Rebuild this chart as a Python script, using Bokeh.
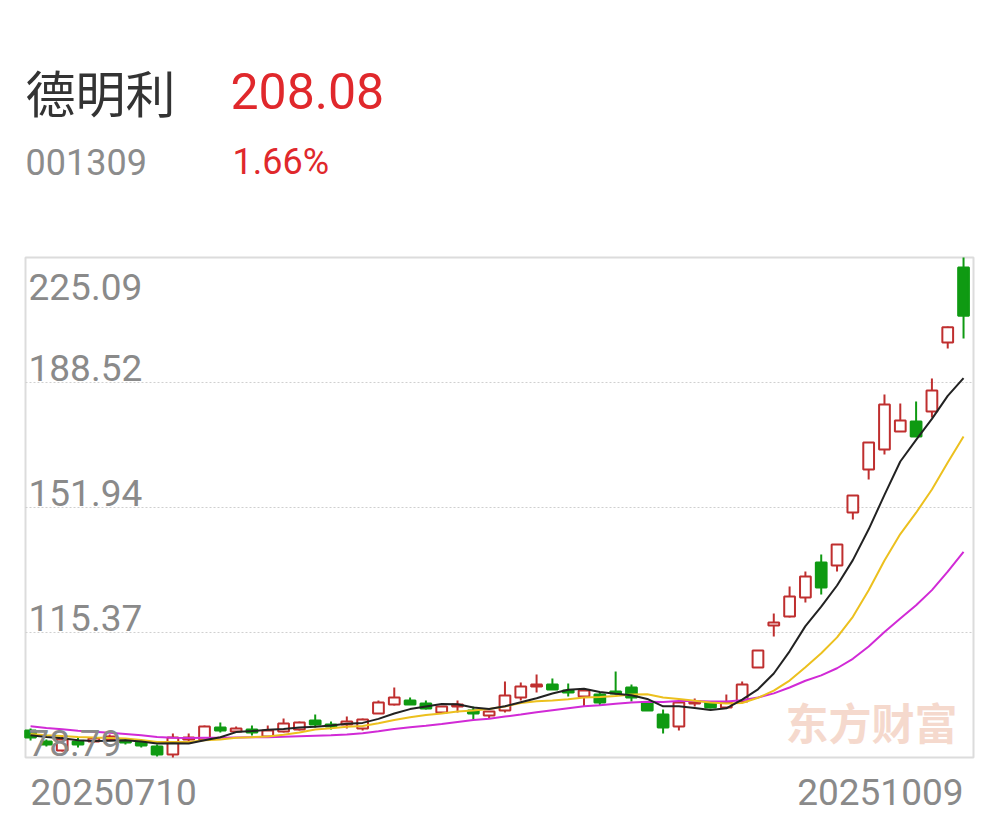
import numpy as np
from bokeh.plotting import figure
from bokeh.models import Range1d, Label, ColumnDataSource
from bokeh.core.properties import value
from bokeh.embed import file_html
from bokeh.resources import INLINE

# ---------------- data ----------------
stock_name = "德明利"
stock_code = "001309"
last_price = "208.08"
pct_change = "1.66%"
date_labels = ["20250710", "20251009"]
y_tick_vals = [225.09, 188.52, 151.94, 115.37, 78.79]
y_tick_labels = ["225.09", "188.52", "151.94", "115.37", "78.79"]

open_ = [86.69, 83.47, 80.84, 83.47, 83.47, 84.06, 83.76, 83.18, 82.01, 79.67,
         84.06, 84.06, 87.57, 86.40, 86.98, 84.93, 86.40, 86.98, 89.62, 88.45,
         88.45, 87.28, 91.66, 94.30, 95.47, 94.59, 91.96, 93.71, 92.54, 91.08,
         92.54, 96.35, 99.57, 100.15, 98.39, 96.64, 97.22, 98.10, 99.27, 94.88,
         91.37, 87.86, 94.59, 94.88, 93.42, 95.18, 105.12, 117.41, 120.05, 125.61,
         135.85, 134.97, 150.48, 163.06, 168.91, 174.18, 177.11, 180.03, 200.22, 222.16]
high = [87.28, 84.06, 84.93, 84.64, 84.64, 85.52, 84.35, 83.76, 82.59, 85.81,
        85.81, 88.15, 89.03, 87.86, 88.15, 88.15, 90.20, 89.32, 91.37, 89.32,
        90.79, 90.20, 95.47, 99.27, 96.35, 95.47, 93.71, 95.47, 93.71, 92.25,
        101.03, 100.74, 103.08, 101.91, 100.44, 98.69, 97.81, 103.95, 100.15, 94.88,
        92.83, 95.18, 96.05, 95.18, 97.22, 101.03, 110.10, 120.92, 128.83, 133.21,
        138.19, 141.11, 155.45, 170.96, 185.01, 182.37, 182.96, 189.69, 204.90, 225.09]
low = [83.76, 82.01, 80.55, 81.72, 83.18, 83.76, 82.59, 81.72, 79.08, 78.79,
       83.18, 83.76, 86.11, 86.11, 85.23, 84.64, 86.11, 86.69, 87.57, 86.98,
       87.28, 86.69, 91.66, 94.00, 94.30, 92.83, 91.96, 91.96, 89.91, 90.20,
       91.96, 95.47, 97.81, 98.69, 96.64, 93.71, 94.00, 97.22, 95.18, 92.54,
       85.81, 86.69, 93.71, 93.13, 93.13, 94.88, 105.12, 114.19, 119.75, 124.14,
       126.48, 133.21, 148.43, 160.13, 167.45, 174.18, 172.72, 178.27, 198.46, 201.39]
close = [84.64, 82.59, 84.06, 82.59, 84.35, 84.93, 83.18, 82.30, 79.67, 84.64,
         84.64, 87.86, 86.69, 87.28, 86.11, 86.69, 88.74, 89.03, 88.45, 87.86,
         89.32, 89.91, 94.88, 96.35, 94.30, 93.13, 93.71, 94.30, 91.66, 92.25,
         96.93, 99.57, 100.15, 98.69, 97.81, 98.39, 94.88, 97.52, 96.35, 92.54,
         87.57, 94.88, 95.18, 93.42, 94.88, 100.15, 110.10, 118.29, 125.90, 131.75,
         128.53, 141.11, 155.45, 170.96, 182.08, 177.40, 172.72, 186.17, 204.68, 208.08]
# closes of the 19 sessions before the window (estimated from where the MA lines start)
pre_close = [92.0, 91.5, 91.0, 90.8, 90.5, 90.2, 89.8, 89.6, 89.1, 87.0,
             86.5, 86.0, 85.5, 85.8, 86.2, 85.2, 86.0, 85.6, 85.2]

# ---------------- derived ----------------
n = len(close)
idx = list(range(n))
allc = np.array(pre_close + close)
off = len(pre_close)


def ma(k):
    return [float(allc[off + i - k + 1: off + i + 1].mean()) for i in range(n)]


ma5, ma10, ma20 = ma(5), ma(10), ma(20)

RED = "#bf2f2f"
GREEN = "#0f9a12"
up = [c >= o for o, c in zip(open_, close)]
top = [max(o, c) for o, c in zip(open_, close)]
bot = [min(o, c) for o, c in zip(open_, close)]
src = ColumnDataSource(dict(x=idx, o=open_, h=high, l=low, c=close, top=top, bot=bot,
                            col=[RED if u else GREEN for u in up],
                            fill=["#ffffff" if u else GREEN for u in up]))

# ---------------- layout (pixels) ----------------
FIG_W, FIG_H = 990, 812
BOX_L, BOX_R, BOX_T, BOX_B = 25, 973, 257, 757
xl, xr = -0.32, (n - 1) + 0.63
yl, yh = min(low), max(high)
sx = (xr - xl) / (BOX_R - BOX_L)
sy = (yh - yl) / (BOX_B - BOX_T)
x_range = Range1d(xl - BOX_L * sx, xr + (FIG_W - BOX_R) * sx)
y_range = Range1d(yl - (FIG_H - BOX_B) * sy, yh + BOX_T * sy)

p = figure(width=FIG_W, height=FIG_H, output_backend="svg", toolbar_location=None,
           x_range=x_range, y_range=y_range,
           x_axis_location=None, y_axis_location=None,
           min_border_left=0, min_border_right=0, min_border_top=0, min_border_bottom=0)
p.background_fill_color = "white"
p.border_fill_color = "white"
p.outline_line_color = None
for g in p.grid:
    g.visible = False

# watermark
p.add_layout(Label(x=785, y=FIG_H - 720, x_units="screen", y_units="screen", text="东方财富",
                   text_font="Noto Sans CJK SC", text_font_style="bold", text_font_size="43px",
                   text_color="#f5d9cd", text_baseline="middle", level="underlay"))

# chart box and dotted grid lines
p.quad(left=[xl], right=[xr], bottom=[yl], top=[yh], fill_color=None,
       line_color="#dcdcdc", line_width=2)
gv = y_tick_vals[1:-1]
p.segment(x0=[xl] * len(gv), x1=[xr] * len(gv), y0=gv, y1=gv,
          line_color="#cfcfcf", line_dash="2 2", line_width=1)

# candles
p.segment(x0="x", y0="h", x1="x", y1="l", source=src, line_color="col", line_width=2)
p.vbar(x="x", width=0.68, top="top", bottom="bot", source=src,
       fill_color="fill", line_color="col", line_width=2)

# moving averages
p.line(idx, ma20, line_color="#d12ad6", line_width=2)
p.line(idx, ma10, line_color="#ecc01e", line_width=2)
p.line(idx, ma5, line_color="#222222", line_width=2)

# y labels
ysrc = ColumnDataSource(dict(x=[xl] * 5, y=y_tick_vals, t=y_tick_labels,
                             yo=[29, -14.5, -14.5, -14.5, -14.5]))
p.text(x="x", y="y", text="t", source=ysrc, x_offset=3, y_offset="yo",
       text_font=value("Roboto"), text_font_size="37px", text_color="#8a8a8a",
       text_baseline="middle", text_align="left")

# x labels
xsrc = ColumnDataSource(dict(x=[0, n - 1], y=[yl, yl], t=date_labels, a=["left", "right"]))
p.text(x="x", y="y", text="t", source=xsrc, x_offset=0, y_offset=34,
       text_font=value("Roboto"), text_font_size="37px", text_color="#8a8a8a",
       text_baseline="middle", text_align="a")

# header
def hdr(x, y, text, size, color, font="Roboto"):
    p.add_layout(Label(x=x, y=FIG_H - y, x_units="screen", y_units="screen", text=text,
                       text_font=font, text_font_size=size, text_color=color,
                       text_baseline="middle"))


hdr(25, 90, stock_name, "50px", "#333333", "Noto Sans CJK SC")
hdr(230, 90, last_price, "50px", "#e0282c")
hdr(25, 161, stock_code, "36px", "#8c8c8c")
hdr(232, 161, pct_change, "36px", "#e0282c")

open("out.html", "w").write(file_html(p, INLINE))
